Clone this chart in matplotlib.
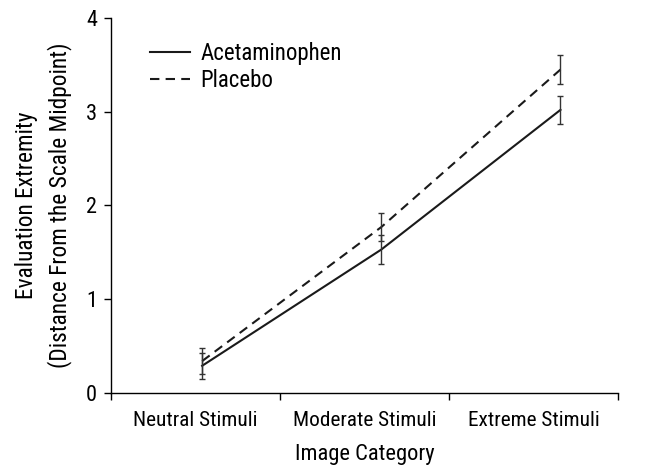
import matplotlib
matplotlib.use("Agg")
import matplotlib.pyplot as plt

plt.rcParams["font.family"] = ["Roboto Condensed", "DejaVu Sans"]

# categories and where each group's points sit on the continuous x axis
categories = ["Neutral Stimuli", "Moderate Stimuli", "Extreme Stimuli"]
point_x = [0.54, 1.60, 2.66]

acet_mean = [0.29, 1.53, 3.02]
acet_err = [0.14, 0.15, 0.15]
placebo_mean = [0.34, 1.77, 3.45]
placebo_err = [0.14, 0.15, 0.15]

yticks = [0, 1, 2, 3, 4]

fig = plt.figure(figsize=(6.56, 4.67), dpi=100)
ax = fig.add_axes([0.169, 0.1585, 0.773, 0.803])

ax.plot(point_x, acet_mean, color="#1a1a1a", lw=1.5, label="Acetaminophen")
ax.plot(point_x, placebo_mean, color="#1a1a1a", lw=1.5, ls=(0, (4.5, 3)),
        label="Placebo")
ax.errorbar(point_x, acet_mean, yerr=acet_err, fmt="none", ecolor="#333333",
            elinewidth=1, capsize=2.5, capthick=1)
ax.errorbar(point_x, placebo_mean, yerr=placebo_err, fmt="none",
            ecolor="#333333", elinewidth=1, capsize=2.5, capthick=1)

ax.set_xlim(0, 3)
ax.set_ylim(0, 4)
ax.set_xticks([0, 1, 2, 3])
ax.set_xticklabels([])
ax.set_xticks([0.5, 1.5, 2.5], minor=True)
ax.set_xticklabels(categories, minor=True, fontsize=15.3)
ax.tick_params(axis="x", which="minor", length=0, pad=13)
ax.tick_params(axis="x", which="major", direction="out", length=5, width=1)
ax.set_yticks(yticks)
ax.set_yticklabels([str(v) for v in yticks], fontsize=16)
ax.tick_params(axis="y", direction="out", length=5, width=1, pad=5)

for side in ("top", "right"):
    ax.spines[side].set_visible(False)
for side in ("left", "bottom"):
    ax.spines[side].set_linewidth(1)

ax.set_xlabel("Image Category", fontsize=16.2, labelpad=10)
ax.set_ylabel("Evaluation Extremity\n(Distance From the Scale Midpoint)",
              fontsize=16.8, labelpad=10, linespacing=1.45)

ax.legend(loc="upper left", bbox_to_anchor=(0.077, 0.935), frameon=False,
          fontsize=16.5, handlelength=1.75, handletextpad=0.45,
          labelspacing=0.15, borderpad=0, borderaxespad=0)

fig.savefig("out.png", dpi=100)
